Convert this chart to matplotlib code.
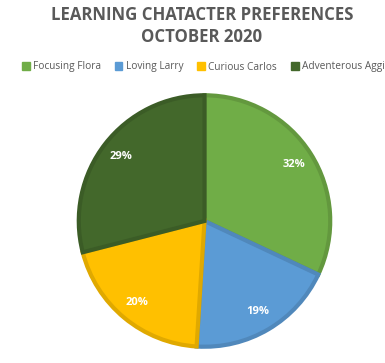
import matplotlib.pyplot as plt
import matplotlib.colors as mcolors

# data
labels = ['Focusing Flora', 'Loving Larry', 'Curious Carlos', 'Adventerous Aggie']
shares = [32, 19, 20, 29]
colors = ['#70AD47', '#5B9BD5', '#FFC000', '#43682B']

def darker(c, f=0.88):
    r, g, b = mcolors.to_rgb(c)
    return (r * f, g * f, b * f)

fig = plt.figure(figsize=(3.85, 3.63), dpi=100)
ax = fig.add_axes([(204.5 - 127) / 385, (363 - 221 - 127) / 363, 254 / 385, 254 / 363])

wedges, texts, autotexts = ax.pie(
    shares, colors=colors, startangle=90, counterclock=False,
    autopct='%d%%', pctdistance=0.84, radius=0.99,
    wedgeprops=dict(linewidth=3, joinstyle='miter'),
    textprops=dict(color='white', fontsize=8, fontweight='bold', family='Open Sans'))
for w, c in zip(wedges, colors):
    w.set_edgecolor(darker(c))
ax.set_xlim(-1, 1)
ax.set_ylim(-1, 1)
ax.set_aspect('equal')

fig.text(202 / 385, 1 - 15 / 363, 'LEARNING CHATACTER PREFERENCES', ha='center', va='center',
         fontsize=12.1, fontweight='bold', color='#595959', family='Open Sans')
fig.text(202 / 385, 1 - 37 / 363, 'OCTOBER 2020', ha='center', va='center',
         fontsize=12.1, fontweight='bold', color='#595959', family='Open Sans')

handles = [plt.Rectangle((0, 0), 1, 1, color=c) for c in colors]
fig.legend(handles, labels, ncol=4, loc='center left', bbox_to_anchor=(22 / 385, 1 - 67 / 363),
           frameon=False, handlelength=0.75, handleheight=0.75, handletextpad=0.35,
           columnspacing=1.35, prop=dict(family='Open Sans', size=7.3), labelcolor='#595959',
           borderaxespad=0, borderpad=0)

fig.savefig('out.png', dpi=100)
